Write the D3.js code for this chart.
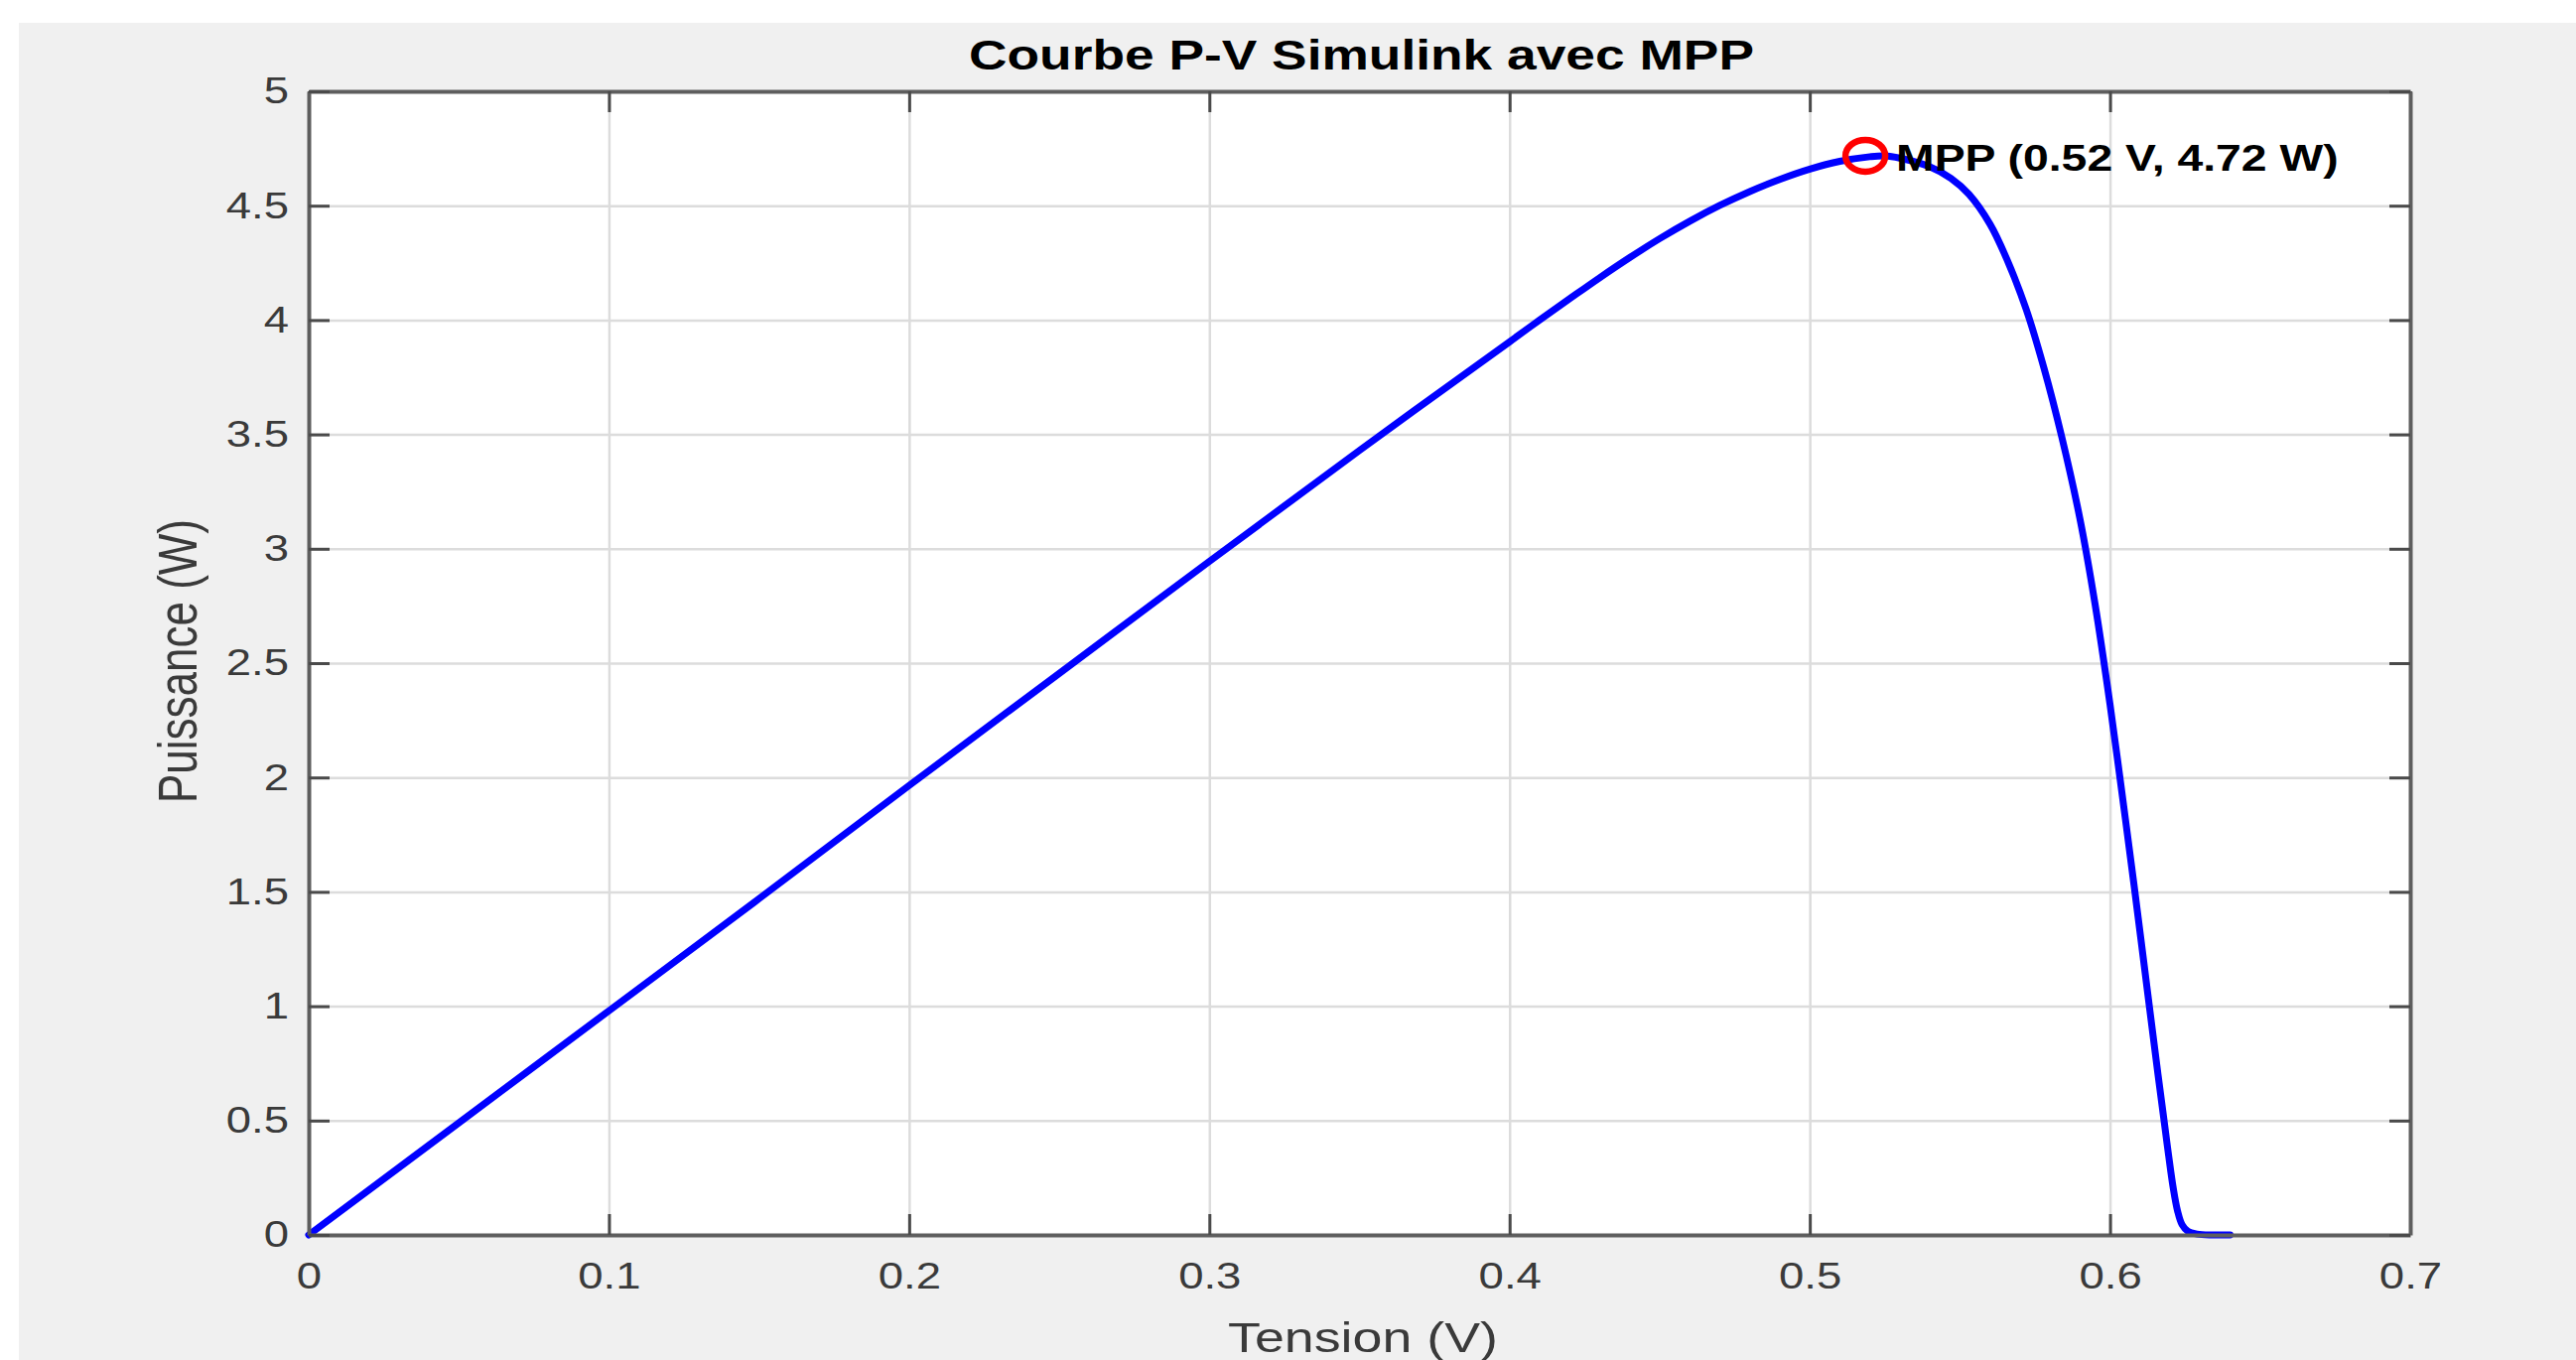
<!DOCTYPE html>
<html>
<head>
<meta charset="utf-8">
<script src="https://cdn.jsdelivr.net/npm/d3@7"></script>
<style>
    body { margin: 0; background: #ffffff; }
    text { font-family: "Liberation Sans", Arial, Helvetica, sans-serif; }
</style>
</head>
<body>
<svg class="svg1" width="2595" height="1370"></svg>
<script>
// tension (V) and puissance (W)
var voltage = [0, 0.05, 0.1, 0.15, 0.2, 0.25, 0.3, 0.35, 0.4,
    0.41, 0.42, 0.43, 0.44, 0.45, 0.46, 0.47, 0.48, 0.49, 0.5,
    0.51, 0.52, 0.525, 0.53,
    0.54, 0.547, 0.553, 0.56, 0.5655,
    0.572, 0.578, 0.584, 0.59, 0.595,
    0.6, 0.604, 0.608, 0.613, 0.616,
    0.618, 0.6195, 0.621, 0.6225, 0.624,
    0.626, 0.629, 0.634, 0.64];
var power = [0, 0.49, 0.98, 1.47, 1.965, 2.455, 2.945, 3.43, 3.905,
    4.0, 4.093, 4.185, 4.273, 4.356, 4.432, 4.501, 4.562, 4.615, 4.66,
    4.694, 4.714, 4.718, 4.708,
    4.67, 4.62, 4.55, 4.42, 4.27,
    4.05, 3.79, 3.485, 3.13, 2.76,
    2.32, 1.93, 1.53, 1.01, 0.70,
    0.50, 0.35, 0.21, 0.105, 0.045,
    0.015, 0.004, 0, 0];

var mppVoltage = 0.5185;
var mppPower = 4.718;

var xTicks = [0, 0.1, 0.2, 0.3, 0.4, 0.5, 0.6, 0.7];
var yTicks = [0, 0.5, 1, 1.5, 2, 2.5, 3, 3.5, 4, 4.5, 5];
var xTickLabels = ["0", "0.1", "0.2", "0.3", "0.4", "0.5", "0.6", "0.7"];
var yTickLabels = ["0", "0.5", "1", "1.5", "2", "2.5", "3", "3.5", "4", "4.5", "5"];

var titleText = "Courbe P-V Simulink avec MPP";
var xLabelText = "Tension (V)";
var yLabelText = "Puissance (W)";

var LEFT = 311, RIGHT = 2428, TOP = 92, BOTTOM = 1244;
var STRETCH = 1.23;   // the original figure is stretched horizontally
var TICK = 21;

var svg = d3.select(".svg1");

// figure background
svg.append("rect")
    .attr("x", 19).attr("y", 23)
    .attr("width", 2595 - 19).attr("height", 1370 - 23)
    .attr("fill", "#f0f0f0");

svg.append("rect")
    .attr("x", LEFT).attr("y", TOP)
    .attr("width", RIGHT - LEFT).attr("height", BOTTOM - TOP)
    .attr("fill", "#ffffff");

var scaleX = d3.scaleLinear().domain([0, 0.7]).range([LEFT, RIGHT]);
var scaleY = d3.scaleLinear().domain([0, 5]).range([BOTTOM, TOP]);

// grid
svg.append("g")
    .attr("transform", "translate(0," + BOTTOM + ")")
    .call(d3.axisBottom(scaleX).tickValues(xTicks).tickSize(-(BOTTOM - TOP)).tickFormat(""))
    .call(function(g) { g.select(".domain").remove(); })
    .selectAll("line")
    .attr("stroke", "#dcdcdc")
    .attr("stroke-width", 2.5);

svg.append("g")
    .attr("transform", "translate(" + LEFT + ",0)")
    .call(d3.axisLeft(scaleY).tickValues(yTicks).tickSize(-(RIGHT - LEFT)).tickFormat(""))
    .call(function(g) { g.select(".domain").remove(); })
    .selectAll("line")
    .attr("stroke", "#dcdcdc")
    .attr("stroke-width", 2.5);

// curve
var pts = voltage.map(function(v, i) { return [v, power[i]]; });

var line = d3.line()
    .x(function(d) { return scaleX(d[0]); })
    .y(function(d) { return scaleY(d[1]); })
    .curve(d3.curveCatmullRom.alpha(0.5));

svg.append("path")
    .datum(pts)
    .attr("d", line)
    .attr("fill", "none")
    .attr("stroke", "#0000ff")
    .attr("stroke-width", 7)
    .attr("stroke-linejoin", "round")
    .attr("stroke-linecap", "round");

// box axes with inward ticks
function styleAxis(g) {
    g.select(".domain").attr("stroke", "#5e5e5e").attr("stroke-width", 4);
    g.selectAll(".tick line").attr("stroke", "#4a4a4a").attr("stroke-width", 3);
    g.selectAll("text")
        .attr("fill", "#3a3a3a")
        .style("font-size", "37px")
        .attr("transform", function() {
            var tx = +d3.select(this).attr("x") || 0;
            return "translate(" + tx + ",0) scale(" + STRETCH + ",1) translate(" + (-tx) + ",0)";
        });
}

svg.append("g")
    .attr("transform", "translate(0," + BOTTOM + ")")
    .call(d3.axisBottom(scaleX).tickValues(xTicks).tickSizeInner(-TICK).tickSizeOuter(0)
        .tickPadding(28).tickFormat(function(d, i) { return xTickLabels[i]; }))
    .call(styleAxis);

svg.append("g")
    .attr("transform", "translate(0," + TOP + ")")
    .call(d3.axisTop(scaleX).tickValues(xTicks).tickSizeInner(-TICK).tickSizeOuter(0).tickFormat(""))
    .call(styleAxis);

svg.append("g")
    .attr("transform", "translate(" + LEFT + ",0)")
    .call(d3.axisLeft(scaleY).tickValues(yTicks).tickSizeInner(-TICK).tickSizeOuter(0)
        .tickPadding(20).tickFormat(function(d, i) { return yTickLabels[i]; }))
    .call(styleAxis);

svg.append("g")
    .attr("transform", "translate(" + RIGHT + ",0)")
    .call(d3.axisRight(scaleY).tickValues(yTicks).tickSizeInner(-TICK).tickSizeOuter(0).tickFormat(""))
    .call(styleAxis);

// MPP marker
svg.append("ellipse")
    .attr("cx", scaleX(mppVoltage))
    .attr("cy", scaleY(mppPower))
    .attr("rx", 20)
    .attr("ry", 16)
    .attr("fill", "none")
    .attr("stroke", "#ff0000")
    .attr("stroke-width", 6.5);

var mppX = scaleX(mppVoltage) + 31;
var mppY = scaleY(mppPower) + 15;
svg.append("text")
    .attr("x", mppX)
    .attr("y", mppY)
    .attr("transform", "translate(" + mppX + ",0) scale(1.27,1) translate(" + (-mppX) + ",0)")
    .style("font-size", "36.5px")
    .style("font-weight", "bold")
    .attr("fill", "#000000")
    .text("MPP (" + mppVoltage.toFixed(2) + " V, " + mppPower.toFixed(2) + " W)");

// titles
var titleX = (LEFT + RIGHT) / 2 + 2;
svg.append("text")
    .attr("x", titleX)
    .attr("y", 70)
    .attr("text-anchor", "middle")
    .attr("transform", "translate(" + titleX + ",0) scale(1.24,1) translate(" + (-titleX) + ",0)")
    .style("font-size", "43px")
    .style("font-weight", "bold")
    .attr("fill", "#000000")
    .text(titleText);

var xlX = 1373;
svg.append("text")
    .attr("x", xlX)
    .attr("y", 1362)
    .attr("text-anchor", "middle")
    .attr("transform", "translate(" + xlX + ",0) scale(1.25,1) translate(" + (-xlX) + ",0)")
    .style("font-size", "43px")
    .attr("fill", "#3a3a3a")
    .text(xLabelText);

svg.append("text")
    .attr("transform", "translate(198,666) scale(1.25,1) rotate(-90)")
    .attr("text-anchor", "middle")
    .style("font-size", "44px")
    .attr("fill", "#3a3a3a")
    .text(yLabelText);
</script>
</body>
</html>
